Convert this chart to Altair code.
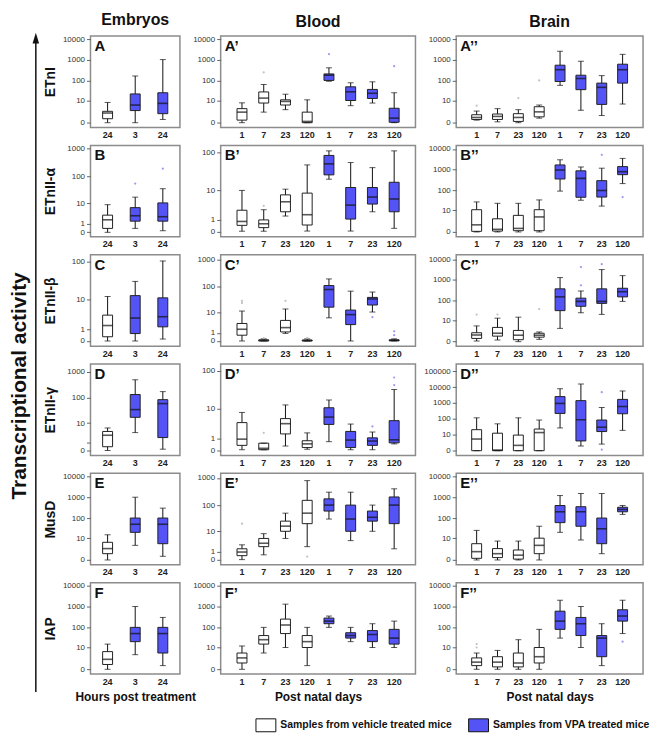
import altair as alt
import pandas as pd

FONT = "Liberation Sans"
GROUPS = ["Samples from vehicle treated mice", "Samples from VPA treated mice"]
BOX_FILL = ["#ffffff", "#5353f6"]
OUT_COLOR = ["#c2c2c2", "#9a9af2"]

EMB_X = ["24", "3", "24"]
EMB_G = [0, 1, 1]
PND_X = ["1", "7", "23", "120", "1", "7", "23", "120"]
PND_G = [0, 0, 0, 0, 1, 1, 1, 1]

COL_TITLES = ["Embryos", "Blood", "Brain"]
ROW_TITLES = ["ETnI", "ETnII-\u03b1", "ETnII-\u03b2", "ETnII-\u03b3", "MusD", "IAP"]
X_TITLES = ["Hours post treatment", "Post natal days", "Post natal days"]

# each box: [whisker low, Q1, median, Q3, whisker high]
A = [[0, 0.55, 1.9, 2.5, 8.3], [0, 2.8, 6, 22.7, 170], [0.43, 1.7, 7.4, 26, 1040]]
A_out = [[], [], []]
A1 = [[0, 0.33, 2.2, 3.7, 7.9], [2.2, 7.7, 14, 28.5, 66], [3.2, 6, 9.4, 11.4, 22], [0, 0, 0.15, 2.2, 11.4],
      [95, 104, 185, 213, 420], [5.5, 10.5, 29, 51, 80], [7.7, 13.4, 24.5, 38, 89], [0, 0.05, 0.65, 3.9, 26]]
A1_out = [[], [255], [], [], [1900], [], [], [500]]
A2 = [[0.33, 0.43, 0.78, 1.4, 2.6], [0.1, 0.43, 1.0, 1.6, 3.7], [0, 0.15, 0.78, 1.7, 3.2], [0.65, 0.9, 2.3, 4.8, 6],
      [60, 92, 340, 560, 2600], [2.9, 37, 128, 185, 870], [1.2, 6.5, 48, 77, 177], [6.8, 77, 340, 625, 1850]]
A2_out = [[5.5], [], [14], [104], [], [], [], []]

B = [[0, 0.38, 1.8, 3.1, 8.7], [0.38, 1.5, 2.9, 6.6, 17], [0.14, 1.5, 2.6, 10.2, 35]]
B_out = [[], [54], [185]]
B1 = [[0.04, 0.46, 0.83, 2.5, 10], [0.04, 0.28, 0.6, 1.0, 2.6], [1.5, 2.2, 4.7, 7.5, 10.8], [0.05, 0.49, 1.7, 8.4, 47],
      [20, 26, 50, 82, 107], [0.05, 1.1, 3.7, 12, 54], [2.2, 4.0, 6.5, 12, 40], [0.23, 2.2, 5.7, 16.6, 107]]
B1_out = [[], [3.5], [], [], [], [], [], []]
B2 = [[0, 0.07, 1.2, 10.8, 27], [0, 0.1, 0.34, 3.3, 23], [0, 0.15, 0.48, 5.3, 23], [0, 0.15, 4.3, 10.8, 34],
      [92, 355, 960, 1690, 3000], [33, 46, 380, 880, 1360], [16.6, 47, 99, 295, 1180], [213, 575, 800, 1410, 3500]]
B2_out = [[], [], [], [], [], [], [5200], [47]]

C = [[0, 0.28, 1.46, 3.5, 12.3], [0, 0.54, 2.8, 13, 31], [0.12, 1.28, 3.1, 11.3, 104]]
C_out = [[], [], []]
C1 = [[0, 0.63, 1.7, 3.4, 11.6], [0, 0, 0.05, 0.1, 0.2], [0.9, 1.15, 2.1, 4.7, 14], [0, 0, 0.04, 0.08, 0.2],
      [6.1, 16.5, 77, 108, 190], [0, 3, 8.3, 12.7, 67], [10.6, 20, 34, 39, 62], [0, 0.02, 0.05, 0.1, 0.2]]
C1_out = [[24, 29], [0.28], [29], [0.3], [], [], [6.5], [0.63, 1.26]]
C2 = [[0.07, 0.43, 1.1, 1.7, 4.8], [0.2, 0.85, 1.55, 3.9, 12.8], [0, 0.24, 1.05, 2.5, 14.4], [0.29, 0.65, 1.05, 1.55, 1.95],
      [3.4, 31, 148, 365, 1290], [24, 51, 89, 128, 290], [20, 71, 89, 365, 3150], [89, 148, 265, 390, 1600]]
C2_out = [[19.5], [19.5], [], [37], [], [540, 4200], [5800], []]

D = [[0, 0.39, 2.8, 4.3, 6.2], [3.8, 17.3, 35, 134, 490], [0.12, 2.1, 60, 85, 173]]
D_out = [[], [], []]
D1 = [[0.04, 0.34, 0.92, 4, 8], [0.04, 0.04, 0.13, 0.52, 0.52], [0.29, 1.6, 3.7, 5.3, 12.9], [0.07, 0.18, 0.46, 0.75, 1.76],
      [0.66, 3.5, 5.9, 10.8, 17.5], [0.04, 0.18, 0.82, 2.0, 3.6], [0.04, 0.34, 0.72, 1.07, 1.9], [0.46, 0.55, 0.85, 4.6, 33]]
D1_out = [[], [1.76], [], [], [], [], [3.0], [43, 67]]
D2 = [[0, 0, 4.4, 20, 116], [0, 0, 0.1, 11.6, 48], [0, 0, 1.16, 8.6, 116], [0, 0, 12.8, 22, 84],
      [26, 220, 940, 2530, 7900], [0.97, 3.1, 88, 1410, 15600], [1.6, 15, 29, 84, 520], [18, 210, 600, 1690, 5700]]
D2_out = [[], [], [], [], [], [], [0.15, 4800], []]

E = [[0, 1, 2.5, 6, 15], [4, 20, 50, 100, 1000], [0.5, 5, 50, 100, 300]]
E_out = [[], [], []]
E1 = [[0, 0.4, 0.9, 1.5, 2.5], [0.5, 2, 3, 5, 8], [5, 10, 16, 25, 50], [2, 20, 50, 150, 800],
      [30, 60, 100, 170, 300], [4, 10, 30, 100, 300], [10, 25, 35, 60, 100], [1.5, 20, 100, 200, 400]]
E1_out = [[20], [], [], [0.3], [], [], [], []]
E2 = [[0, 0.2, 1.5, 5, 25], [0, 0.3, 1, 2.5, 7], [0, 0.1, 0.7, 2, 7], [0, 1, 4, 10, 40],
      [20, 60, 200, 400, 1200], [8, 40, 200, 350, 1500], [1, 5, 30, 100, 1500], [150, 200, 260, 330, 400]]
E2_out = [[], [], [], [], [], [], [], []]

F = [[0, 0.7, 2, 6, 15], [4, 20, 50, 100, 1000], [0.5, 5, 50, 100, 300]]
F_out = [[], [], []]
F1 = [[0, 1, 2.5, 5, 12], [5, 15, 25, 40, 100], [10, 50, 130, 250, 1300], [0.5, 10, 20, 40, 100],
      [100, 150, 200, 280, 350], [20, 30, 40, 55, 100], [10, 20, 45, 70, 150], [10, 15, 30, 80, 200]]
F1_out = [[], [], [], [], [], [], [], []]
F2 = [[0, 0.5, 1.2, 2.5, 5], [0, 0.3, 1.2, 3, 7], [0, 0.3, 1, 5, 25], [0, 1, 3, 10, 80],
      [30, 80, 200, 600, 2000], [10, 40, 150, 300, 1000], [0.5, 3, 30, 40, 150], [50, 200, 350, 700, 2000]]
F2_out = [[10, 15], [], [], [], [], [], [], [20]]

T4 = [0, 10, 100, 1000, 10000]
T3 = [0, 1, 10, 100, 1000]
T2 = [0, 1, 10, 100]
T5 = [0, 10, 100, 1000, 10000, 100000]

# (letter, boxes, outliers, y domain, y tick values)
PANELS = [
    ("A", A, A_out, [-0.7, 13800], T4), ("A\u2019", A1, A1_out, [-0.7, 13800], T4), ("A\u2019\u2019", A2, A2_out, [-0.7, 13800], T4),
    ("B", B, B_out, [-0.45, 1260], T3), ("B\u2019", B1, B1_out, [-0.33, 147], T2), ("B\u2019\u2019", B2, B2_out, [-0.72, 14800], T4),
    ("C", C, C_out, [-0.35, 150], T2), ("C\u2019", C1, C1_out, [-0.55, 1480], T3), ("C\u2019\u2019", C2, C2_out, [-0.66, 16600], T4),
    ("D", D, D_out, [-0.55, 1950], T3), ("D\u2019", D1, D1_out, [-0.34, 147], T2), ("D\u2019\u2019", D2, D2_out, [-1.0, 282000], T5),
    ("E", E, E_out, [-0.7, 13800], T4), ("E\u2019", E1, E1_out, [-0.55, 1480], T3), ("E\u2019\u2019", E2, E2_out, [-0.7, 13800], T4),
    ("F", F, F_out, [-0.7, 13800], T4), ("F\u2019", F1, F1_out, [-0.7, 13800], T4), ("F\u2019\u2019", F2, F2_out, [-0.7, 13800], T4),
]

WIDTHS = [90, 196, 188]
HEIGHT = 92
PAD_OUTER = [0.12, 0.48, 0.48]

LEGEND = alt.Legend(
    orient="none", legendX=166, legendY=683, direction="horizontal", title=None,
    symbolType="M-1,-0.65H1V0.65H-1Z", symbolSize=400, symbolStrokeColor="#111",
    symbolStrokeWidth=1, labelFont=FONT, labelFontSize=10.5, labelFontWeight="bold",
    labelColor="#111", labelLimit=400, labelOffset=4, columnPadding=14,
)


def make_panel(idx):
    r, c = divmod(idx, 3)
    letter, stats, outs, domain, ticks = PANELS[idx]
    xl = EMB_X if c == 0 else PND_X
    gl = EMB_G if c == 0 else PND_G
    keys = [f"{i}|{t}" for i, t in enumerate(xl)]
    df = pd.DataFrame({
        "key": keys,
        "group": [GROUPS[g] for g in gl],
        "lo": [s[0] for s in stats],
        "q1": [s[1] for s in stats],
        "med": [s[2] for s in stats],
        "q3": [s[3] for s in stats],
        "hi": [s[4] for s in stats],
    })
    orows = [{"key": keys[i], "group": GROUPS[gl[i]], "v": v} for i, lst in enumerate(outs) for v in lst]
    odf = pd.DataFrame(orows, columns=["key", "group", "v"])

    xaxis = dict(labelExpr="split(datum.label, '|')[1]", labelAngle=0, ticks=False, domain=False,
                 labelFontSize=9, labelFontWeight="bold", labelPadding=3, labelColor="#222", labelFont=FONT)
    if r == 5:
        xaxis.update(title=X_TITLES[c], titleFontSize=12, titleFontWeight="bold", titlePadding=6,
                     titleFont=FONT, titleColor="#111")
    else:
        xaxis["title"] = None
    x = alt.X("key:N", sort=keys, scale=alt.Scale(domain=keys, paddingInner=0, paddingOuter=PAD_OUTER[c]),
              axis=alt.Axis(**xaxis))

    yscale = alt.Scale(type="symlog", constant=1, domain=domain, nice=False, zero=False)
    yaxis = dict(values=ticks, format="d", labelFontSize=8, labelColor="#333", labelFont=FONT, tickSize=4,
                 tickColor="#666", domain=False, grid=False, labelPadding=2, minExtent=27, maxExtent=27)
    if c == 0:
        yaxis.update(title=ROW_TITLES[r], titleFontSize=14, titleFontWeight="bold", titlePadding=6,
                     titleFont=FONT, titleColor="#111")
    else:
        yaxis["title"] = None
    yax = alt.Axis(**yaxis)

    base = alt.Chart(df)
    whisk = base.mark_rule(color="#111", strokeWidth=1).encode(
        x=x, y=alt.Y("lo:Q", scale=yscale, axis=yax), y2="hi:Q")
    box = base.mark_bar(size=10, stroke="#222", strokeWidth=1).encode(
        x=x, y=alt.Y("q1:Q", scale=yscale, axis=yax), y2="q3:Q",
        fill=alt.Fill("group:N", scale=alt.Scale(domain=GROUPS, range=BOX_FILL), legend=LEGEND))
    med = base.mark_tick(size=10, thickness=1.6, color="#111").encode(
        x=x, y=alt.Y("med:Q", scale=yscale, axis=yax))
    caplo = base.mark_tick(size=6, thickness=1, color="#111").encode(
        x=x, y=alt.Y("lo:Q", scale=yscale, axis=yax))
    caphi = base.mark_tick(size=6, thickness=1, color="#111").encode(
        x=x, y=alt.Y("hi:Q", scale=yscale, axis=yax))
    out = alt.Chart(odf).mark_circle(size=5, opacity=1).encode(
        x=x, y=alt.Y("v:Q", scale=yscale, axis=yax),
        color=alt.Color("group:N", scale=alt.Scale(domain=GROUPS, range=OUT_COLOR), legend=None))
    lab = alt.Chart(pd.DataFrame({"t": [letter]})).mark_text(
        align="left", baseline="top", fontSize=15, fontWeight="bold", font=FONT, color="#111"
    ).encode(x=alt.value(4), y=alt.value(3), text="t:N")

    layers = [whisk, box, med, caplo, caphi, out, lab]
    if idx == 0:
        one = pd.DataFrame({"t": ["Transcriptional activity"]})
        big = alt.Chart(one).mark_text(angle=270, align="center", baseline="middle", fontSize=21,
                                       fontWeight="bold", font=FONT, color="#111").encode(
            x=alt.value(-71), y=alt.value(352), text="t:N")
        shaft = alt.Chart(one).mark_rule(color="#111", strokeWidth=1.5).encode(
            x=alt.value(-55), y=alt.value(6), y2=alt.value(660))
        head = alt.Chart(one).mark_point(shape="M0,-1L0.6,1L-0.6,1Z", filled=True, size=120,
                                         color="#111", opacity=1).encode(
            x=alt.value(-55), y=alt.value(2))
        layers += [shaft, head, big]

    props = dict(width=WIDTHS[c], height=HEIGHT)
    if r == 0:
        props["title"] = alt.TitleParams(COL_TITLES[c], fontSize=16, fontWeight="bold", font=FONT,
                                         offset=5, frame="group", anchor="middle", color="#111")
    return alt.layer(*layers).properties(**props)


panels = [make_panel(i) for i in range(18)]

chart = alt.concat(*panels, columns=3, spacing={"row": 18, "column": 41}, bounds="flush").properties(
    padding=0
).configure_view(stroke="#8c8c8c", strokeWidth=1.5).configure_axis(grid=False)

chart.save("out.html", embed_options={"renderer": "svg", "actions": False})
